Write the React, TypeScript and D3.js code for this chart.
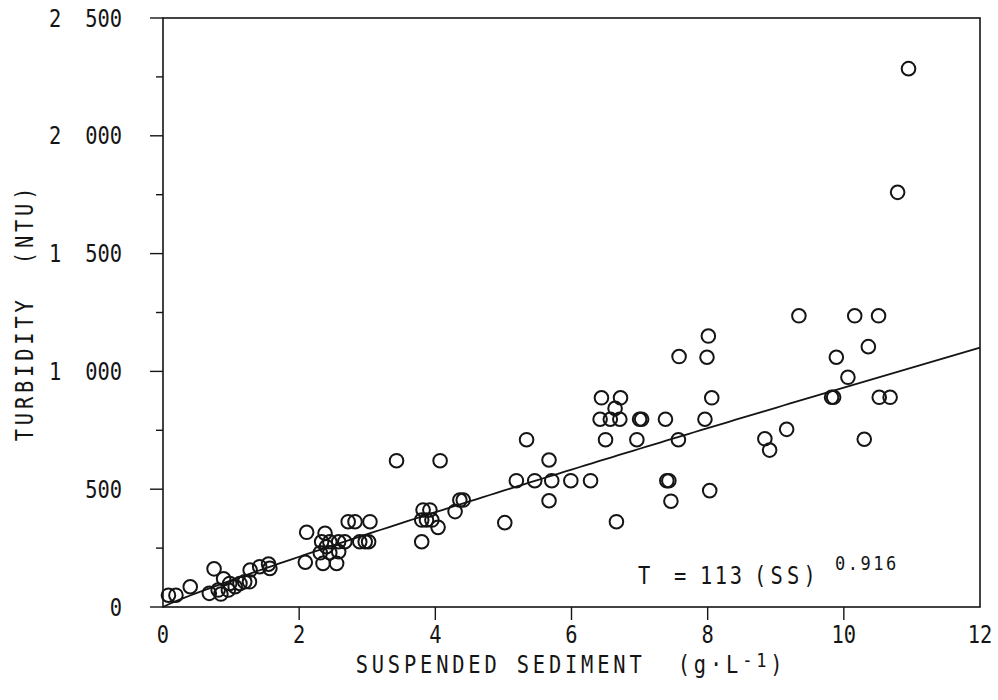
import React from "react";
import * as d3 from "d3";

const ssValues = [
  0.08, 0.19, 0.40, 0.68, 0.75, 0.81, 0.85, 0.89, 0.96, 0.98, 1.06, 1.13, 1.20, 1.27, 1.28, 1.42, 1.55, 1.57,
  2.11, 2.09, 2.33, 2.45, 2.58, 2.67, 2.31, 2.45, 2.58, 2.40, 2.35, 2.55, 2.38, 2.72, 2.82, 3.04, 2.89, 2.97, 3.02,
  3.43, 4.07, 3.82, 3.92, 3.80, 3.87, 3.95, 4.04, 3.80, 4.36, 4.41, 4.29,
  5.34, 5.67, 5.19, 5.46, 5.71, 5.99, 6.28, 5.67, 5.02,
  6.44, 6.72, 6.64, 6.42, 6.57, 6.71, 7.00, 7.03, 7.38, 7.96, 6.50, 6.96, 7.57, 7.40, 7.43, 7.46, 6.66, 8.03, 8.06, 8.01, 7.58, 7.99,
  8.84, 8.91, 9.16, 9.34, 10.16, 10.51, 10.36, 9.89, 10.06, 9.82, 9.85, 10.52, 10.68, 10.30, 10.79, 10.95,
];
const turbidityValues = [
  50, 50, 86, 58, 162, 72, 55, 120, 72, 100, 86, 100, 107, 107, 157, 171, 182, 164,
  317, 190, 277, 277, 277, 277, 230, 230, 235, 256, 185, 185, 313, 362, 362, 362, 277, 277, 277,
  621, 621, 412, 412, 369, 369, 369, 338, 277, 454, 454, 405,
  710, 624, 536, 536, 536, 536, 536, 451, 358,
  888, 888, 843, 797, 797, 797, 797, 797, 797, 797, 710, 710, 710, 536, 536, 449, 362, 494, 888, 1150, 1063, 1060,
  714, 666, 754, 1236, 1236, 1236, 1105, 1060, 975, 890, 890, 890, 890, 712, 1760, 2285,
];
const xTicks = [0, 2, 4, 6, 8, 10, 12];
const yTicks = [0, 500, 1000, 1500, 2000, 2500];
const yMinorTicks = [250, 750, 1250, 1750, 2250];
const fitCoef = 113;
const fitExp = 0.916;

const FONT = "'DejaVu Sans Mono', monospace";
const INK = "#151515";
const SX = 0.85;

export default function App() {
  const x = d3.scaleLinear().domain([0, 12]).range([163, 980]);
  const y = d3.scaleLinear().domain([0, 2500]).range([607, 18]);
  const curvePts = d3.range(0, 12.0001, 0.1).map((s) => [s, fitCoef * Math.pow(s, fitExp)] as [number, number]);
  const line = d3.line<[number, number]>().x((d) => x(d[0])).y((d) => y(d[1]));
  const pts = ssValues.map((s, i) => [s, turbidityValues[i]]);

  return (
    <svg width={998} height={700} style={{ position: "absolute", left: 0, top: 0, background: "#fff" }}>
      <rect x={x(0)} y={y(2500)} width={x(12) - x(0)} height={y(0) - y(2500)} fill="none" stroke={INK} strokeWidth={1.6} />
      {yTicks.map((t) => (
        <line key={"yt" + t} x1={x(0) - 13} x2={x(0)} y1={y(t)} y2={y(t)} stroke={INK} strokeWidth={1.4} />
      ))}
      {yMinorTicks.map((t) => (
        <line key={"ym" + t} x1={x(0) - 7} x2={x(0)} y1={y(t)} y2={y(t)} stroke={INK} strokeWidth={1.4} />
      ))}
      {yTicks.map((t) => {
        const th = Math.floor(t / 1000);
        const rest = t % 1000;
        return (
          <g key={"yl" + t} transform={`translate(122, ${y(t) + 8.5}) scale(${SX}, 1)`}>
            <text x={0} y={0} textAnchor="end" fontFamily={FONT} fontSize={24} fill={INK}>
              {th > 0 ? (
                <>
                  <tspan>{th}</tspan>
                  <tspan dx={28}>{String(rest).padStart(3, "0")}</tspan>
                </>
              ) : (
                String(rest)
              )}
            </text>
          </g>
        );
      })}
      {xTicks.slice(1, -1).map((t) => (
        <line key={"xt" + t} x1={x(t)} x2={x(t)} y1={y(0)} y2={y(0) + 13} stroke={INK} strokeWidth={1.4} />
      ))}
      {xTicks.map((t) => (
        <g key={"xl" + t} transform={`translate(${x(t)}, 643) scale(${SX}, 1)`}>
          <text x={0} y={0} textAnchor="middle" fontFamily={FONT} fontSize={24} fill={INK}>
            {t}
          </text>
        </g>
      ))}
      <g transform={`translate(571, 673) scale(${SX}, 1)`}>
        <text x={0} y={0} textAnchor="middle" fontFamily={FONT} fontSize={24} letterSpacing={4.5} fill={INK}>
          SUSPENDED SEDIMENT{"\u00a0\u00a0"}(g·L<tspan dy={-6} fontSize={20}>-1</tspan><tspan dy={6}>)</tspan>
        </text>
      </g>
      <g transform={`translate(33, ${(y(0) + y(2500)) / 2}) rotate(-90) scale(${SX}, 1)`}>
        <text x={0} y={0} textAnchor="middle" fontFamily={FONT} fontSize={24} letterSpacing={4.5} fill={INK}>
          TURBIDITY{"\u00a0\u00a0"}(NTU)
        </text>
      </g>
      <path d={line(curvePts) || ""} fill="none" stroke={INK} strokeWidth={1.8} />
      {pts.map((p, i) => (
        <circle key={i} cx={x(p[0])} cy={y(p[1])} r={6.8} fill="none" stroke={INK} strokeWidth={2} />
      ))}
      <g transform={`translate(0, 584)`}>
        <g transform={`translate(638, 0) scale(${SX}, 1)`}>
          <text fontFamily={FONT} fontSize={24} fill={INK}>T</text>
        </g>
        <g transform={`translate(674, 0) scale(${SX}, 1)`}>
          <text fontFamily={FONT} fontSize={24} fill={INK}>=</text>
        </g>
        <g transform={`translate(700, 0) scale(${SX}, 1)`}>
          <text fontFamily={FONT} fontSize={24} fill={INK} letterSpacing={3}>113</text>
        </g>
        <g transform={`translate(754, 0) scale(${SX}, 1)`}>
          <text fontFamily={FONT} fontSize={24} fill={INK} letterSpacing={5}>(SS)</text>
        </g>
        <g transform={`translate(835, -14) scale(${SX}, 1)`}>
          <text fontFamily={FONT} fontSize={20} fill={INK} letterSpacing={3}>0.916</text>
        </g>
      </g>
    </svg>
  );
}
